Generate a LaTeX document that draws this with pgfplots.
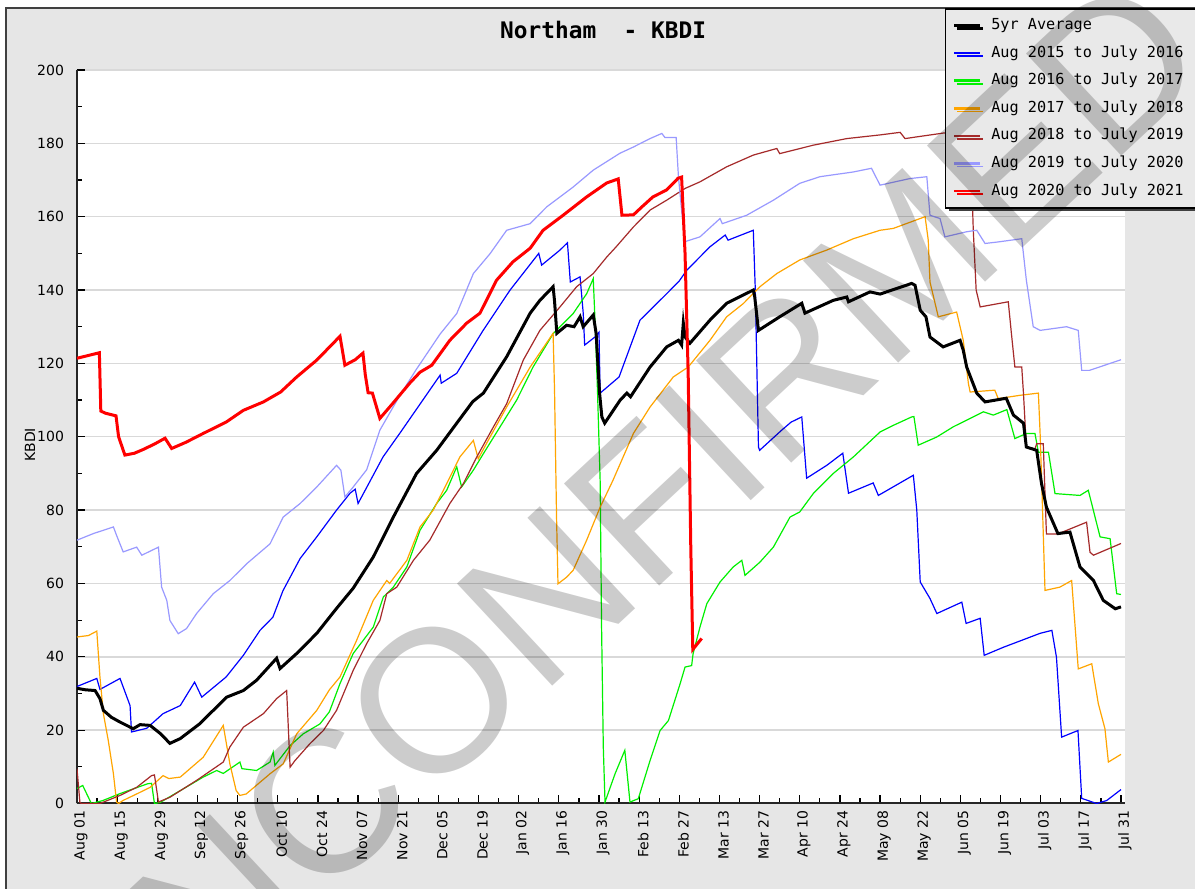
\documentclass[border=0pt]{standalone}
\usepackage{fontspec}
\setmainfont{DejaVu Sans}
\newfontfamily\monofont{DejaVu Sans Mono}
\newfontfamily\wmfont{Liberation Sans}
\usepackage{pgfplots}
\pgfplotsset{compat=1.18}
\usetikzlibrary{shadows}
\definecolor{bggray}{RGB}{230,230,230}
\definecolor{legbg}{RGB}{233,233,233}
\definecolor{cblue}{RGB}{0,0,255}
\definecolor{cgreen}{RGB}{0,240,0}
\definecolor{corange}{RGB}{255,165,0}
\definecolor{cbrown}{RGB}{165,42,42}
\definecolor{clav}{RGB}{153,153,255}
\definecolor{cred}{RGB}{255,0,0}
\begin{document}
\begin{tikzpicture}
\useasboundingbox (0,0) rectangle (597.5pt,444.5pt);
\fill[white] (0,0) rectangle (597.5pt,444.5pt);
\fill[bggray] (3pt,-5pt) rectangle (602pt,440.5pt);
\draw[black!75, line width=1pt] (3pt,-5pt) -- (3pt,440.5pt) -- (602pt,440.5pt);
\begin{axis}[
  at={(38.5pt,42.75pt)}, anchor=south west,
  scale only axis, width=524pt, height=366.75pt,
  xmin=0, xmax=365.4, ymin=0, ymax=200,
  axis x line*=bottom, axis y line*=left,
  axis line style={line width=1pt, black!85},
  axis background/.style={fill=white},
  xtick={0,14,...,364},
  xticklabels={Aug 01,Aug 15,Aug 29,Sep 12,Sep 26,Oct 10,Oct 24,Nov 07,Nov 21,Dec 05,Dec 19,Jan 02,Jan 16,Jan 30,Feb 13,Feb 27,Mar 13,Mar 27,Apr 10,Apr 24,May 08,May 22,Jun 05,Jun 19,Jul 03,Jul 17,Jul 31},
  minor x tick num=1,
  ytick={0,20,...,200}, minor y tick num=1,
  tick align=inside,
  major tick length=4pt, minor tick length=2.5pt,
  every tick/.style={black, line width=0.6pt},
  ymajorgrids, grid style={gray!30, line width=0.75pt},
  /pgf/number format/assume math mode=true,
  tick label style={font=\fontsize{7}{8}\selectfont},
  yticklabel style={xshift=-3pt},
  xticklabel style={rotate=90, anchor=east, xshift=0pt, yshift=-2pt},
  ylabel={KBDI},
  ylabel style={at={(axis description cs:-0.0448,0.489)}, anchor=center, font=\fontsize{7}{8}\selectfont},
  title={Northam\ \ - KBDI},
  every axis title shift=0pt,
  title style={at={(axis description cs:0.502,1.0545)}, anchor=center, font=\monofont\bfseries\fontsize{11.4}{13}\selectfont},
  legend style={at={(axis description cs:0.8282,1.0845)}, anchor=north west,
    draw=black, line width=0.75pt, fill=legbg,
    general shadow={fill=black!75, shadow xshift=1.5pt, shadow yshift=-1.5pt},
    font=\monofont\fontsize{7.6}{9}\selectfont,
    inner xsep=3.5pt, inner ysep=1.5pt, row sep=0pt,
    nodes={inner ysep=3.4pt, inner xsep=2.5pt, text height=5.5pt, text depth=1.5pt},
    /tikz/every odd column/.append style={column sep=2.5pt}},
  legend cell align=left,
  legend image code/.code={\draw[#1, line width=1.3pt] (0pt,0pt) -- (13pt,0pt);},
]
\addlegendimage{black, line width=1.5pt}\addlegendentry{5yr Average}
\addlegendimage{cblue}\addlegendentry{Aug 2015 to July 2016}
\addlegendimage{cgreen}\addlegendentry{Aug 2016 to July 2017}
\addlegendimage{corange}\addlegendentry{Aug 2017 to July 2018}
\addlegendimage{cbrown}\addlegendentry{Aug 2018 to July 2019}
\addlegendimage{clav}\addlegendentry{Aug 2019 to July 2020}
\addlegendimage{cred}\addlegendentry{Aug 2020 to July 2021}

% Aug 2015 to July 2016
\addplot[cblue, line width=0.6pt, forget plot] coordinates {
(0,31.9) (6.9,34.1) (8,31.1) (15,34.1) (18.5,26.7) (19,19.5) (24.3,20.5) (30,24.5) (36,26.7) (41,33.1) (43.5,29) (52,34.5) (58,40.4) (63.8,47.2) (68.3,50.8) (71.8,58) (77.8,66.8) (83.6,72.7) (90.5,80) (95.2,84.6) (97,85.7) (98,81.8) (106.7,94.5) (112.6,101) (126.6,116.8) (127,114.6) (132.4,117.3) (141.6,129) (151,140) (159,148) (161,150) (162,146.8) (168.4,150.9) (171,152.9) (172,142.2) (175.4,143.6) (176.5,133.7) (177,125) (180.6,127.2) (182,128.5) (182.4,111.9) (189,116.3) (196.3,131.8) (205.6,139) (210,142.5) (212.6,145.4) (220.7,151.8) (226,155) (227,153.6) (235.8,156.3) (236.5,140) (237.6,97.2) (238,96.3) (245.7,101.8) (249,104) (252.7,105.4) (254.4,88.7) (261.4,92.2) (267,95.5) (269,84.6) (277.6,87.4) (279.4,84) (291.6,89.5) (292.8,80) (294,60.4) (297.4,55.9) (299.8,51.8) (308.5,54.9) (310,49.1) (314.9,50.5) (316.3,40.4) (323,42.6) (335.8,46.4) (339.9,47.2) (341.5,39.9) (343.3,18.1) (349,19.9) (350.3,1.4) (355.5,0) (359,0.8) (364,3.8)
};
% Aug 2016 to July 2017
\addplot[cgreen, line width=0.6pt, forget plot] coordinates {
(0,4.1) (2,4.9) (5,0) (9,0.8) (15,2.7) (24.7,5.4) (26,5.5) (27,0) (29,0.3) (36,3.5) (44,7.2) (48.7,9) (51,8.2) (56.8,11.3) (57.5,9.5) (62.6,9) (67.3,11.3) (68.4,14) (69,10.4) (74.3,15.8) (78.9,19) (84.7,21.7) (88,25) (91.7,32.7) (96.3,40.9) (103.3,48.1) (106.8,56.3) (110.3,59) (115,64.5) (119.6,74.5) (125.4,81.8) (128.9,85.4) (132.4,91.8) (134.1,86.3) (138.2,90.9) (141.7,95.4) (147.5,102.7) (153.3,110) (159,119) (166,128.1) (173,133.6) (177.7,139) (180,143.1) (180.7,130) (181.5,111.9) (182.4,88.1) (182.9,48.1) (183.5,15.4) (184.1,0.4) (187.6,8.1) (191,14.5) (192.8,0.4) (195.7,1.3) (199.8,11.7) (203.3,19.9) (206.2,22.6) (210.3,32.7) (212,37.2) (214.3,37.6) (214.8,40.8) (217.2,48.1) (219.6,54.5) (224.2,60.4) (228.8,64.5) (231.8,66.3) (232.9,62.2) (238.1,65.8) (242.8,69.9) (248.6,78.1) (252,79.5) (256.7,84.5) (263.7,90) (270.7,94.5) (280,101.3) (284.6,103.1) (291,105.4) (291.8,105.5) (293.3,97.7) (299.7,99.9) (305.5,102.7) (316,106.8) (319.5,105.9) (324.2,107.4) (327,99.5) (331,100.9) (334,100.9) (335.2,95.8) (338.7,95.8) (341,84.5) (349.7,84) (352.6,85.4) (356.7,72.7) (360.2,72.2) (362.5,57.2) (364,57)
};
% Aug 2017 to July 2018
\addplot[corange, line width=0.6pt, forget plot] coordinates {
(0,45.4) (4,45.8) (6.9,47) (8,34.5) (9.2,24.5) (10.9,17.2) (12.7,8.1) (13.8,0.4) (14.5,0) (16,0.8) (20.8,2.6) (25.5,4.4) (30,7.6) (32,6.8) (36,7.2) (44,12.6) (51,21.3) (53.3,10.8) (55.5,3.5) (56.8,2.2) (59,2.6) (67.3,8.1) (71.9,10.8) (76.6,19) (83.6,25.4) (88,31) (91.7,34.5) (97.5,44.5) (103.3,55.4) (108,60.8) (109,60) (115,66.3) (119.6,75.4) (124.2,80) (128.9,87.2) (133.5,94.5) (138.2,99) (139.9,94) (142.8,98.2) (149.8,108.1) (158,119) (166,128.2) (166.5,112.7) (167.2,78.1) (167.7,59.9) (170.7,61.7) (173,63.6) (177.7,71.8) (182.4,80.8) (186.8,88) (194,100.9) (199.8,108.1) (207.9,116.3) (213.1,119) (220.7,126.3) (226.5,132.7) (232.3,136.3) (238.1,140.9) (244,144.5) (252,148.2) (261.4,150.9) (270.7,154) (280,156.3) (284.6,156.8) (295.7,160) (296.8,153.6) (297.4,142.2) (300.3,132.7) (306.7,134) (309,126.3) (310.8,114.5) (311.4,112.2) (320,112.7) (321.2,110.4) (328.8,111.3) (335.2,111.9) (335.8,100.9) (336.3,89) (337.5,58.1) (342.7,59) (346.8,60.8) (349.1,36.7) (353.8,38.1) (356.1,27.2) (358.4,20.4) (359.6,11.3) (364,13.4)
};
% Aug 2018 to July 2019
\addplot[cbrown, line width=0.6pt, forget plot] coordinates {
(0,9.5) (1,0.4) (1.5,0) (8,0) (15,2.2) (20.8,4.4) (26,7.6) (27,7.8) (28.4,0.4) (32.4,1.7) (41.7,6.3) (51,11.3) (53.3,15.4) (58,20.8) (65,24.5) (69.6,28.6) (73.1,30.8) (74.3,9.9) (76,11.7) (81.2,16.3) (85.9,19.9) (90.5,25.4) (96.3,36.3) (101,43.6) (105.6,49.9) (108,57.2) (111.5,59) (117.3,66.3) (123,71.8) (130,81.8) (134.7,87.2) (139.4,94.5) (145.2,102.7) (149.8,109) (155.6,120.9) (161.4,129) (168.4,135.4) (174.2,140.9) (180,144.5) (184.7,149) (188,151.8) (194,157.2) (199.8,161.8) (205.6,164.5) (212,167.7) (217.2,169.5) (226.5,173.6) (235.8,176.8) (244,178.6) (245,177.2) (256.7,179.5) (268.4,181.3) (280,182.3) (287,183) (288.7,181.3) (302,182.8) (311.4,182.8) (312.5,156.3) (313.5,140) (314.9,135.4) (324.7,136.8) (325.8,128.1) (327,119) (329.4,119) (330,111.8) (331,97.2) (334,96.7) (334.6,98.1) (336.9,98.1) (338,73.5) (342,73.5) (352,76.7) (353.2,68.5) (354.4,67.7) (364,70.9)
};
% Aug 2019 to July 2020
\addplot[clav, line width=0.6pt, forget plot] coordinates {
(0,71.8) (5.7,73.6) (12.7,75.4) (13.8,73.1) (16.1,68.6) (20.8,69.9) (22.6,67.7) (28.4,69.9) (29.5,59) (31.3,55.4) (32.4,49.9) (35.3,46.3) (38.2,47.7) (41.7,51.8) (47.5,57.2) (53.3,60.8) (59.2,65.4) (67.3,70.8) (71.9,78.1) (77.8,81.8) (83.6,86.3) (90.5,92.2) (92,90.9) (93.4,83.6) (96,86) (101,91) (105.6,101.8) (112,110.5) (118,118) (126.6,128) (132.4,133.6) (138.2,144.5) (144,149.9) (149.8,156.3) (158,158.1) (163.8,162.7) (173,168.1) (180,172.7) (189.3,177.3) (194,179) (199.8,181.3) (203.9,182.7) (205,181.6) (208.9,181.6) (209.7,170.9) (210.8,161.8) (212,153.2) (217.2,154.5) (224.2,159.5) (225,158.1) (233.5,160.4) (242.8,164.5) (252,169.1) (259,170.9) (270.7,172.2) (277,173.2) (280,168.6) (290.4,170.4) (296.3,170.9) (297.4,160.4) (300.9,159.5) (302.6,154.5) (310.2,155.9) (313.7,156.3) (316.6,152.7) (321,153.1) (329.4,154) (331,142.7) (333.4,130) (335.8,129) (345,130) (349.1,129) (350.3,118.1) (353,118.1) (364,121)
};
% 5yr Average
\addplot[black, line width=1.5pt, forget plot] coordinates {
(0,31.4) (3,31) (6.3,30.8) (8,28.6) (9.2,25.4) (12,23.5) (15,22.2) (19.6,20.4) (22,21.5) (25.5,21.3) (29,19.1) (32.4,16.4) (36,17.7) (42.9,21.8) (47,25) (52.2,29) (58,30.8) (62.6,33.6) (69.6,39.6) (70.8,36.8) (76.6,40.9) (83.6,46.4) (90.5,53.2) (96.3,58.7) (103.3,67.2) (110.3,78.1) (118.4,90) (125.4,96.3) (132.4,103.7) (138,109.6) (141.7,111.9) (149.8,121.8) (158,133.7) (161.4,137.2) (166,140.9) (166.5,137) (167.3,128.2) (170.7,130.4) (173.3,130) (175.4,132.7) (176.5,130) (180,133.2) (181,128.2) (182.2,111.9) (183,105.4) (184,103.7) (189.3,109.9) (191.7,111.9) (193,110.9) (199.8,119) (205.6,124.5) (209.7,126.3) (210.8,125) (211.4,131) (212,127.2) (213.7,125.5) (220.7,131.8) (226.5,136.4) (235.8,140) (236.3,138.1) (237.6,129) (245,132.7) (252.7,136.4) (253.8,133.7) (263.7,137.2) (268.4,138.1) (269,136.8) (276.5,139.5) (280,138.9) (291,141.8) (292.2,141.3) (294,134.5) (296,132.7) (297.4,127.2) (302,124.5) (307.9,126.3) (309,123.6) (310.2,119) (313.7,111.9) (316.6,109.5) (324,110.5) (326.5,105.9) (330,103.7) (331,97.2) (334.6,96.3) (336.3,87.2) (338,80.8) (342,73.6) (346.2,74) (349.7,64.5) (354.4,60.8) (357.8,55.4) (362,53.1) (364,53.6)
};
% Aug 2020 to July 2021
\addplot[cred, line width=1.5pt, forget plot] coordinates {
(0,121.4) (7.8,122.9) (8.3,107) (10,106.4) (13.6,105.7) (14.5,100) (16.7,95) (20,95.5) (23,96.5) (27,98) (30.7,99.6) (33,96.8) (38,98.5) (44,100.9) (52,104) (58,107.2) (65,109.5) (71,112.2) (76.6,116.3) (83.6,120.9) (91.7,127.4) (93.4,119.5) (97,121) (99.7,122.8) (100.5,117) (101.5,112) (103,111.9) (105.6,105) (110,109) (116,114.6) (119.6,117.6) (123.7,119.5) (130,126.3) (135.9,131) (140.5,133.7) (146.3,142.7) (152,147.7) (158,151.4) (162.5,156.3) (169.5,160.4) (177.7,165.4) (184.7,169.2) (188.7,170.3) (190,160.4) (194,160.5) (197,162.7) (200.8,165.4) (205.6,167.3) (209.6,170.5) (210.8,170.8) (212,150) (213.1,117) (214,70) (214.7,42) (217.8,45)
};
\end{axis}
\node[rotate=43, font=\wmfont\fontsize{101.5}{110}\selectfont, text=black, text opacity=0.2, inner sep=0pt] at (306pt,177pt) {UNCONFIRMED};
\end{tikzpicture}
\end{document}
